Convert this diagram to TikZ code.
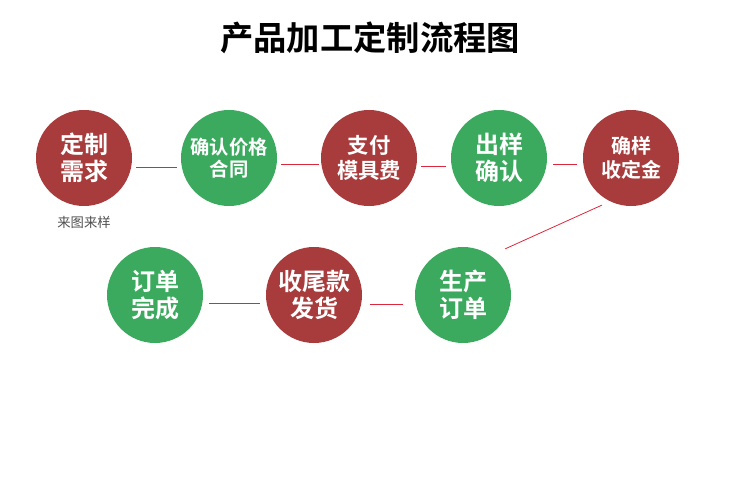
\documentclass[tikz,border=0pt]{standalone}
\usepackage{fontspec}
\setmainfont{Noto Sans CJK SC}[BoldFont={* Bold}]
\newfontfamily\cjkbold{Noto Sans CJK SC Bold}
\begin{document}
\begin{tikzpicture}[x=0.75pt,y=-0.75pt,
  base/.style={circle,minimum size=72pt,inner sep=0pt,text=white,align=center,font=\cjkbold\fontsize{18}{20}\selectfont},
  redc/.style={base,fill={rgb,255:red,168;green,59;blue,59}},
  greenc/.style={base,fill={rgb,255:red,59;green,170;blue,94}},
  small/.style={font=\cjkbold\fontsize{14.5}{17}\selectfont},
  link/.style={draw={rgb,255:red,220;green,40;blue,60},line width=0.6pt}]
\useasboundingbox (0,0) rectangle (750,500);
\node[font=\cjkbold\fontsize{25}{28}\selectfont] (title) at (370,38) {产品加工定制流程图};
\node[redc] (a) at (84,158) {定制\\需求};
\node[greenc,small] (b) at (229,158) {确认价格\\合同};
\node[redc,small,font=\cjkbold\fontsize{16}{19}\selectfont] (c) at (369,158) {支付\\模具费};
\node[greenc] (d) at (499,158) {出样\\确认};
\node[redc,font=\cjkbold\fontsize{15}{18}\selectfont] (e) at (631,158) {确样\\收定金};
\node[greenc] (h) at (155,295) {订单\\完成};
\node[redc] (g) at (314,295) {收尾款\\发货};
\node[greenc] (f) at (463,295) {生产\\订单};
\node[text={rgb,255:red,80;green,80;blue,80},font=\fontsize{10}{12}\selectfont] (note) at (84,222) {来图来样};
\draw[link] ([shift={(4,9)}]a.east) -- ([shift={(-4,9)}]b.west);
\draw[link] ([shift={(4,6)}]b.east) -- ([shift={(-2,6)}]c.west);
\draw[link] ([shift={(4,8)}]c.east) -- ([shift={(-5,8)}]d.west);
\draw[link] ([shift={(6,6)}]d.east) -- ([shift={(-6,6)}]e.west);
\draw[link] ([shift={(5,13)}]e.south west) -- ([shift={(8,-12)}]f.north east);
\draw[link] ([shift={(6,8)}]h.east) -- ([shift={(-6,8)}]g.west);
\draw[link] ([shift={(8,9)}]g.east) -- ([shift={(-12,9)}]f.west);
\end{tikzpicture}
\end{document}
